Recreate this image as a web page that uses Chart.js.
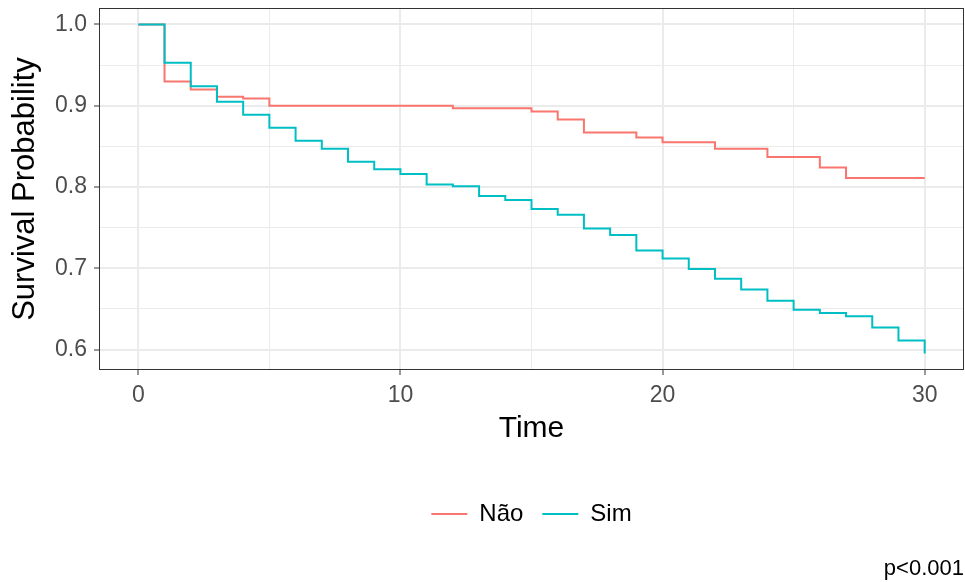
<!DOCTYPE html>
<html>
<head>
<meta charset="utf-8">
<script src="https://cdn.jsdelivr.net/npm/chart.js@4/dist/chart.umd.min.js"></script>
<style>
  html, body { margin: 0; padding: 0; background: #fff; }
  #wrap { width: 965px; height: 582px; }
</style>
</head>
<body>
<div id="wrap"><canvas id="c" width="965" height="582"></canvas></div>
<script>
// ---- data ----
const seriesNames = ["Não", "Sim"];
const naoTimes = [0, 1, 2, 3, 4, 5, 12, 15, 16, 17, 19, 20, 22, 24, 26, 27, 30];
const naoSurv  = [1.0, 0.930, 0.920, 0.911, 0.909, 0.900, 0.897, 0.893, 0.883, 0.867, 0.861, 0.855, 0.847, 0.837, 0.824, 0.811, 0.811];
const simTimes = [0, 1, 2, 3, 4, 5, 6, 7, 8, 9, 10, 11, 12, 13, 14, 15, 16, 17, 18, 19, 20, 21, 22, 23, 24, 25, 26, 27, 28, 29, 30];
const simSurv  = [1.0, 0.953, 0.924, 0.905, 0.889, 0.873, 0.857, 0.847, 0.831, 0.822, 0.816, 0.803, 0.801, 0.789, 0.784, 0.773, 0.766, 0.749, 0.741, 0.722, 0.712, 0.699, 0.687, 0.674, 0.660, 0.649, 0.645, 0.641, 0.627, 0.611, 0.595];
const xTickValues = [0, 5, 10, 15, 20, 25, 30];
const xTickLabels = ["0", "", "10", "", "20", "", "30"];
const yTickValues = [0.6, 0.65, 0.7, 0.75, 0.8, 0.85, 0.9, 0.95, 1.0];
const yTickLabels = ["0.6", "", "0.7", "", "0.8", "", "0.9", "", "1.0"];
const pValueText = "p<0.001";

const colors = ["#F8766D", "#00BFC4"];
const toPts = (ts, vs) => ts.map((t, i) => ({x: t, y: vs[i]}));

const FONT = "'Liberation Sans', Arial, Helvetica, sans-serif";

const panelBorder = {
  id: 'panelBorder',
  afterDatasetsDraw(chart) {
    const a = chart.chartArea, ctx = chart.ctx;
    ctx.save();
    ctx.strokeStyle = '#333333';
    ctx.lineWidth = 1;
    ctx.strokeRect(a.left + 0.5, a.top + 0.5, a.right - a.left - 1, a.bottom - a.top - 1);
    ctx.restore();
  }
};

function isMajor(list, labels, v) {
  const i = list.findIndex(t => Math.abs(t - v) < 1e-9);
  return i >= 0 && labels[i] !== "";
}

new Chart(document.getElementById('c'), {
  type: 'line',
  data: {
    datasets: [
      { label: seriesNames[0], data: toPts(naoTimes, naoSurv), borderColor: colors[0], backgroundColor: colors[0],
        borderWidth: 2, stepped: 'before', pointRadius: 0, fill: false, order: 1 },
      { label: seriesNames[1], data: toPts(simTimes, simSurv), borderColor: colors[1], backgroundColor: colors[1],
        borderWidth: 2, stepped: 'before', pointRadius: 0, fill: false, order: 0 }
    ]
  },
  options: {
    responsive: false,
    animation: false,
    events: [],
    layout: { padding: { top: 8, left: 0, right: 1, bottom: 0 } },
    scales: {
      x: {
        type: 'linear',
        min: -1.5, max: 31.5,
        afterBuildTicks: s => { s.ticks = xTickValues.map(v => ({value: v})); },
        afterFit: s => { s.height = 113; s.paddingLeft = 0; s.paddingRight = 0; },
        ticks: {
          includeBounds: false,
          autoSkip: false,
          maxRotation: 0,
          padding: 7,
          color: '#4D4D4D',
          font: { family: FONT, size: 23 },
          callback: (v) => { const i = xTickValues.findIndex(t => Math.abs(t - v) < 1e-9); return i >= 0 ? xTickLabels[i] : ''; }
        },
        grid: {
          color: '#EBEBEB',
          lineWidth: c => isMajor(xTickValues, xTickLabels, c.tick.value) ? 2 : 1,
          tickColor: c => isMajor(xTickValues, xTickLabels, c.tick.value) ? '#333333' : 'rgba(0,0,0,0)',
          tickLength: 5,
          tickWidth: 1
        },
        border: { display: false },
        title: { display: true, text: 'Time', color: '#000', font: { family: FONT, size: 30 }, padding: { top: 0, bottom: 36 } }
      },
      y: {
        type: 'linear',
        min: 0.5748, max: 1.0203,
        afterBuildTicks: s => { s.ticks = yTickValues.map(v => ({value: v})); },
        afterFit: s => { s.width = 99; s.paddingTop = 0; s.paddingBottom = 0; },
        ticks: {
          includeBounds: false,
          autoSkip: false,
          padding: 7,
          color: '#4D4D4D',
          font: { family: FONT, size: 23 },
          callback: (v) => { const i = yTickValues.findIndex(t => Math.abs(t - v) < 1e-9); return i >= 0 ? yTickLabels[i] : ''; }
        },
        grid: {
          color: '#EBEBEB',
          lineWidth: c => isMajor(yTickValues, yTickLabels, c.tick.value) ? 2 : 1,
          tickColor: c => isMajor(yTickValues, yTickLabels, c.tick.value) ? '#333333' : 'rgba(0,0,0,0)',
          tickLength: 5,
          tickWidth: 1
        },
        border: { display: false },
        title: { display: true, text: 'Survival Probability', color: '#000', font: { family: FONT, size: 31 }, padding: { top: 7, bottom: 0 } }
      }
    },
    plugins: {
      tooltip: { enabled: false },
      legend: {
        display: true,
        position: 'bottom',
        fullSize: false,
        labels: {
          usePointStyle: true,
          pointStyle: 'line',
          pointStyleWidth: 36,
          boxHeight: 24,
          padding: 19,
          color: '#000',
          font: { family: FONT, size: 24 },
          sort: (a, b) => a.datasetIndex - b.datasetIndex
        }
      },
      subtitle: {
        display: true,
        text: pValueText,
        position: 'bottom',
        align: 'end',
        color: '#000',
        font: { family: FONT, size: 22, weight: 'normal' },
        padding: { top: 19.6, bottom: 0 }
      }
    }
  },
  plugins: [panelBorder]
});
</script>
</body>
</html>
